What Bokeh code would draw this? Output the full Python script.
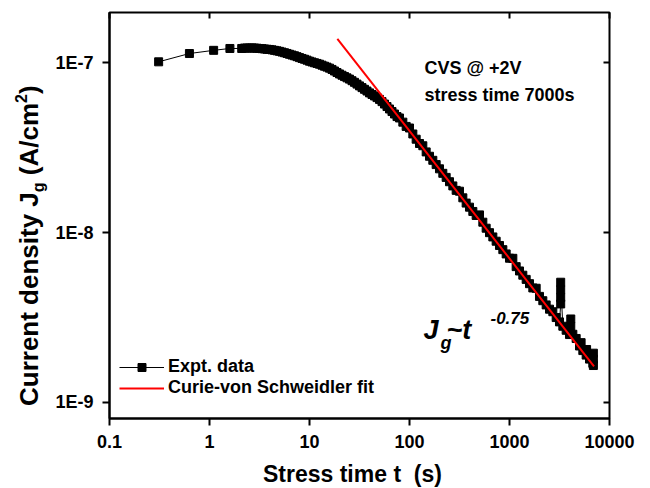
from bokeh.plotting import figure
from bokeh.layouts import row, column
from bokeh.models import (FixedTicker, CustomJSTickFormatter, LogAxis, Label, Div,
                          Legend, LegendItem, Range1d, ColumnDataSource)
from bokeh.embed import file_html
from bokeh.resources import INLINE

# ---- data ----
# first, sparse samples
t_start = [0.31, 0.63, 1.1, 1.6, 2.1]
j_start = [1.01e-7, 1.13e-7, 1.18e-7, 1.21e-7, 1.21e-7]

# dense samples, curved part of the decay
t_band = [2.239, 2.371, 2.512, 2.661, 2.818, 2.985, 3.162, 3.350, 3.548, 3.758,
          3.981, 4.217, 4.467, 4.732, 5.012, 5.309, 5.623, 5.957, 6.310, 6.683,
          7.079, 7.499, 7.943, 8.414, 8.913, 9.441, 10.0, 10.59, 11.22, 11.89,
          12.59, 13.34, 14.13, 14.96, 15.85, 16.79, 17.78, 18.84, 19.95, 21.13,
          22.39, 23.71, 25.12, 26.61, 28.18, 29.85, 31.62, 33.50, 35.48, 37.58,
          39.81, 42.17, 44.67, 47.32, 50.12, 53.09, 56.23, 59.57, 63.10, 66.83,
          70.79, 74.99]
j_band = [1.217e-7, 1.217e-7, 1.217e-7, 1.219e-7, 1.217e-7, 1.214e-7, 1.210e-7, 1.207e-7,
          1.202e-7, 1.197e-7, 1.194e-7, 1.188e-7, 1.180e-7, 1.172e-7, 1.164e-7, 1.153e-7,
          1.142e-7, 1.131e-7, 1.119e-7, 1.107e-7, 1.096e-7, 1.083e-7, 1.069e-7, 1.057e-7,
          1.046e-7, 1.033e-7, 1.019e-7, 1.008e-7, 9.97e-8, 9.88e-8, 9.78e-8, 9.65e-8,
          9.52e-8, 9.40e-8, 9.27e-8, 9.11e-8, 8.92e-8, 8.74e-8, 8.57e-8, 8.42e-8,
          8.27e-8, 8.13e-8, 7.99e-8, 7.82e-8, 7.65e-8, 7.47e-8, 7.29e-8, 7.12e-8,
          6.96e-8, 6.80e-8, 6.63e-8, 6.49e-8, 6.36e-8, 6.22e-8, 6.07e-8, 5.89e-8,
          5.70e-8, 5.51e-8, 5.33e-8, 5.15e-8, 4.98e-8, 4.81e-8]

# dense samples, power-law tail (with the scattered points near 3000-7000 s)
t_late = [79.43, 85.77, 92.61, 100.0, 108.0, 116.6, 125.9, 135.9, 146.8, 158.5,
          171.1, 184.8, 199.5, 215.4, 232.6, 251.2, 271.2, 292.9, 316.2, 341.5,
          368.7, 398.1, 429.9, 464.2, 501.2, 541.2, 584.3, 631.0, 681.3, 735.6,
          794.3, 857.7, 926.1, 1000, 1080, 1166, 1259, 1359, 1468, 1585,
          1711, 1848, 1995, 2154, 2326, 2512, 2712, 2929, 3162, 3250,
          3250, 3250, 3250, 3415, 3687, 3981, 4100, 4100, 4299, 4642,
          5012, 5200, 5412, 5843, 5900, 6310, 6500, 6813, 6900, 6900,
          6900]
j_late = [4.72e-8, 4.46e-8, 4.21e-8, 4.12e-8, 3.80e-8, 3.54e-8, 3.34e-8, 3.24e-8, 2.98e-8, 2.81e-8,
          2.66e-8, 2.51e-8, 2.37e-8, 2.23e-8, 2.11e-8, 1.99e-8, 1.88e-8, 1.77e-8, 1.75e-8, 1.60e-8,
          1.49e-8, 1.41e-8, 1.33e-8, 1.26e-8, 1.27e-8, 1.15e-8, 1.06e-8, 9.98e-9, 9.42e-9, 8.89e-9,
          8.39e-9, 7.93e-9, 7.48e-9, 7.06e-9, 7.05e-9, 6.30e-9, 5.94e-9, 5.61e-9, 5.30e-9, 5.00e-9,
          4.72e-9, 4.70e-9, 4.21e-9, 3.97e-9, 3.75e-9, 3.54e-9, 3.42e-9, 3.16e-9, 2.98e-9, 3.80e-9,
          4.15e-9, 4.60e-9, 5.10e-9, 2.81e-9, 2.66e-9, 2.51e-9, 3.10e-9, 2.80e-9, 2.52e-9, 2.38e-9,
          2.15e-9, 2.25e-9, 2.02e-9, 1.90e-9, 2.05e-9, 1.80e-9, 1.90e-9, 1.70e-9, 1.95e-9, 1.80e-9,
          1.65e-9]

# Curie-von Schweidler fit, J ~ t^-0.75 (end points of the red line)
t_fit = [19, 7000]
j_fit = [1.38e-7, 1.63e-9]

x_ticks = [0.1, 1, 10, 100, 1000, 10000]
y_ticks = [1e-9, 1e-8, 1e-7]

FONT = "Liberation Sans"
FL = 109      # frame left in page pixels
YDIV_W = 50   # width of the column that holds the y-axis title
FIG_H = 460

def tx(px):  # page pixel -> stress time (for annotation placement)
    return 10 ** ((px - FL) / 100 - 1)

def jy(py):  # page pixel -> current density (for annotation placement)
    return 10 ** (-7 - (py - 62) / 170)

p = figure(width=650 - YDIV_W, height=FIG_H, x_axis_type="log", y_axis_type="log",
           x_range=Range1d(0.1, 10000), y_range=Range1d(8.05e-10, 1.97e-7),
           output_backend="svg", toolbar_location=None, margin=0,
           min_border_left=FL - YDIV_W, min_border_right=41, min_border_top=12,
           min_border_bottom=FIG_H - 418)
p.background_fill_color = "white"
p.border_fill_color = "white"
p.grid.visible = False
p.outline_line_color = "black"
p.outline_line_width = 2

fmt_x = CustomJSTickFormatter(code="return tick < 1 ? '0.1' : Math.round(tick).toString();")
fmt_y = CustomJSTickFormatter(code="return '1E' + Math.round(Math.log10(tick));")
fmt_none = CustomJSTickFormatter(code="return '';")

xa = p.xaxis[0]
xa.ticker = FixedTicker(ticks=x_ticks)
xa.formatter = fmt_x
ya = p.yaxis[0]
ya.ticker = FixedTicker(ticks=y_ticks)
ya.formatter = fmt_y
for ax in (xa, ya):
    ax.axis_line_width = 2
    ax.major_tick_line_width = 2
    ax.major_tick_out = 7
    ax.major_tick_in = 0
    ax.minor_tick_line_color = None
    ax.major_label_text_font = FONT
    ax.major_label_text_font_style = "bold"
    ax.major_label_text_font_size = "18px"
    ax.major_label_text_color = "black"
    ax.major_label_standoff = 9

top = LogAxis(ticker=FixedTicker(ticks=x_ticks), formatter=fmt_none)
right = LogAxis(ticker=FixedTicker(ticks=y_ticks), formatter=fmt_none)
for ax in (top, right):
    ax.axis_line_color = None
    ax.major_tick_line_width = 2
    ax.major_tick_in = 6
    ax.major_tick_out = 0
    ax.minor_tick_line_color = None
    ax.major_label_text_font_size = "1px"
    ax.major_label_standoff = 0
p.add_layout(top, "above")
p.add_layout(right, "right")

src = ColumnDataSource(dict(t=t_start + t_band + t_late, j=j_start + j_band + j_late))
r_line = p.line("t", "j", source=src, line_color="black", line_width=1)
r_pts = p.scatter("t", "j", source=src, marker="square", size=8,
                  fill_color="black", line_color="black")
r_fit = p.line(t_fit, j_fit, line_color="#ff0000", line_width=2)

legend = Legend(items=[LegendItem(label="Expt. data", renderers=[r_line, r_pts]),
                       LegendItem(label="Curie-von Schweidler fit", renderers=[r_fit])],
                location=(10, 20), padding=0, margin=0, spacing=-2,
                glyph_width=45, glyph_height=20, label_height=20, label_standoff=4,
                border_line_color=None, background_fill_alpha=0,
                label_text_font=FONT, label_text_font_style="bold",
                label_text_font_size="18px", label_text_color="black")
p.add_layout(legend)

def lab(text, px, py, size, style="bold"):
    p.add_layout(Label(text=text, x=tx(px), y=jy(py), text_font=FONT, text_font_size=size,
                       text_font_style=style, text_color="black",
                       text_align="left", text_baseline="alphabetic"))

lab("CVS @ +2V", 424, 67, "18px")
lab("stress time 7000s", 424, 94, "18px")
lab("J", 423, 329, "27px", "bold italic")
lab("g", 440, 343, "18px", "bold italic")
lab("~t", 446, 329, "27px", "bold italic")
lab("-0.75", 490, 317, "17px", "bold italic")

# y-axis title (rotated, with subscript and superscript)
y_title = Div(width=YDIV_W, height=FIG_H, margin=0, text=(
    '<div style="position:relative;width:50px;height:460px;">'
    '<div style="position:absolute;left:16px;top:406px;transform:rotate(-90deg);'
    'transform-origin:0 0;white-space:nowrap;font-family:\'Liberation Sans\';'
    'font-weight:bold;font-size:26px;line-height:26px;color:#000;">'
    'Current density J<span style="font-size:16px;vertical-align:-6px;line-height:0;">g</span>'
    ' (A/cm<span style="font-size:16px;vertical-align:11px;line-height:0;">2</span>)'
    '</div></div>'))

# x-axis title
x_title = Div(width=650, height=488 - FIG_H, margin=0, text=(
    '<div style="position:relative;width:650px;height:28px;">'
    '<div style="position:absolute;left:263px;top:3px;white-space:nowrap;'
    'font-family:\'Liberation Sans\';font-weight:bold;font-size:23px;line-height:23px;'
    'color:#000;">Stress time t&nbsp; (s)</div></div>'))

layout = column(row(y_title, p, spacing=0, margin=0), x_title, spacing=0, margin=0)
open("out.html", "w").write(file_html(layout, INLINE))
